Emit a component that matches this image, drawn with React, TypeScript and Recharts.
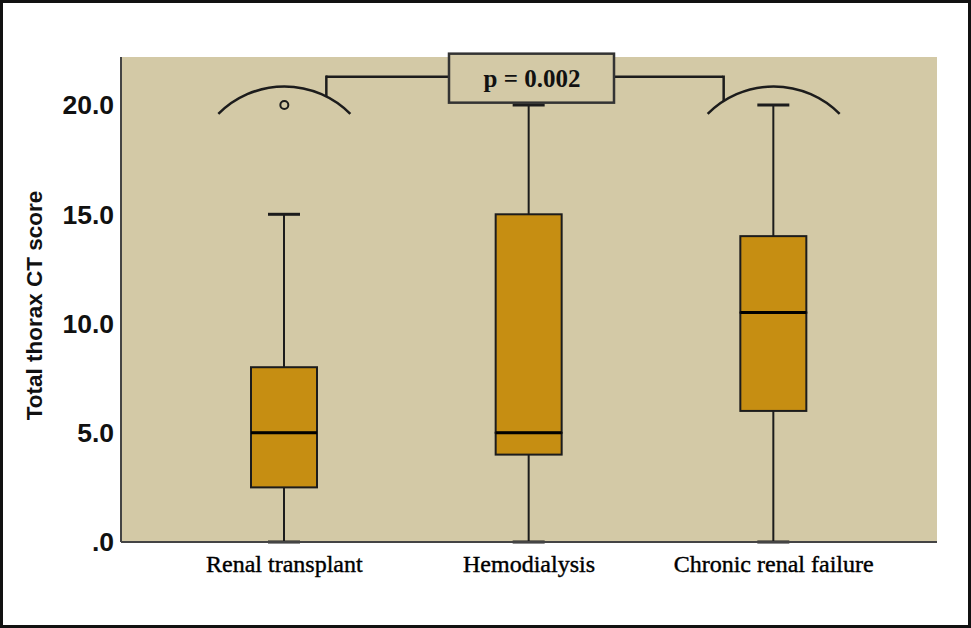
import React from "react";
import {
  ComposedChart,
  Bar,
  Scatter,
  XAxis,
  YAxis,
  CartesianGrid,
  ReferenceDot,
} from "recharts";

const categories = ["Renal transplant", "Hemodialysis", "Chronic renal failure"];
const minVals = [0, 0, 0];
const q1Vals = [2.5, 4, 6];
const medianVals = [5, 5, 10.5];
const q3Vals = [8, 15, 14];
const maxVals = [15, 20, 20];
const outlierVals: (number | null)[] = [20, null, null];
const yTicks = [0, 5, 10, 15, 20];
const pLabel = "p = 0.002";
const arcY = 20.85;
const bracketY = 21.3;

const data = categories.map((name, i) => ({
  name,
  base: minVals[i],
  lowW: q1Vals[i] - minVals[i],
  boxLow: medianVals[i] - q1Vals[i],
  boxHigh: q3Vals[i] - medianVals[i],
  highW: maxVals[i] - q3Vals[i],
  outlier: outlierVals[i],
}));

const INK = "#1c1c1c";
const BOX_FILL = "#C68E12";
const PLOT_BG = "#D3C9A6";

const LowWhisker = (p: any) => {
  const cx = p.x + p.width / 2;
  const yb = p.y + p.height;
  return (
    <g>
      <line x1={cx} x2={cx} y1={p.y} y2={yb} stroke={INK} strokeWidth={2} />
      <line x1={cx - 16} x2={cx + 16} y1={yb} y2={yb} stroke={INK} strokeWidth={3} />
    </g>
  );
};

const HighWhisker = (p: any) => {
  const cx = p.x + p.width / 2;
  return (
    <g>
      <line x1={cx} x2={cx} y1={p.y} y2={p.y + p.height} stroke={INK} strokeWidth={2} />
      <line x1={cx - 16} x2={cx + 16} y1={p.y} y2={p.y} stroke={INK} strokeWidth={3} />
    </g>
  );
};

const BoxLower = (p: any) => (
  <rect x={p.x} y={p.y} width={p.width} height={p.height} fill={BOX_FILL} stroke={INK} strokeWidth={2} />
);

const BoxUpper = (p: any) => (
  <g>
    <rect x={p.x} y={p.y} width={p.width} height={p.height} fill={BOX_FILL} stroke={INK} strokeWidth={2} />
    <line x1={p.x} x2={p.x + p.width} y1={p.y + p.height} y2={p.y + p.height} stroke="#000" strokeWidth={3} />
  </g>
);

const Outlier = (p: any) => {
  if (p.cx == null || p.cy == null || isNaN(p.cy) || p.payload?.outlier == null) return <g />;
  return <circle cx={p.cx} cy={p.cy} r={4} fill="none" stroke={INK} strokeWidth={2} />;
};

// arc over a group plus the bracket leg going up to the bracket line
const arcShape = (legDx: number) => (p: any) => {
  const { cx, cy } = p;
  const r = 93;
  const half = 66;
  const drop = r - Math.sqrt(r * r - half * half);
  const legY = cy + (r - Math.sqrt(r * r - legDx * legDx));
  return (
    <g>
      <path
        d={`M ${cx - half} ${cy + drop} A ${r} ${r} 0 0 1 ${cx + half} ${cy + drop}`}
        fill="none"
        stroke={INK}
        strokeWidth={2.5}
      />
      <line x1={cx + legDx} x2={cx + legDx} y1={legY} y2={cy - 11} stroke={INK} strokeWidth={2.5} />
    </g>
  );
};

const PBox = (p: any) => {
  const { cx, cy } = p;
  return (
    <g>
      <line x1={cx - 203} x2={cx - 80} y1={cy} y2={cy} stroke={INK} strokeWidth={2.5} />
      <line x1={cx + 85} x2={cx + 194} y1={cy} y2={cy} stroke={INK} strokeWidth={2.5} />
      <rect x={cx - 80} y={cy - 23} width={165} height={49} fill={PLOT_BG} stroke="#333" strokeWidth={2.5} />
      <text
        x={cx + 3}
        y={cy + 2}
        textAnchor="middle"
        dominantBaseline="central"
        fontFamily="Liberation Serif"
        fontWeight="bold"
        fontSize={25}
        fill="#111"
      >
        {pLabel}
      </text>
    </g>
  );
};

const YLabel = (props: any) => {
  const vb = props.viewBox || { x: 0, y: 57, width: 121, height: 485 };
  const cy = vb.y + vb.height / 2 + 6;
  return (
    <text
      x={34}
      y={cy}
      transform={`rotate(-90 34 ${cy})`}
      textAnchor="middle"
      dominantBaseline="central"
      fontFamily="Liberation Sans"
      fontWeight="bold"
      fontSize={22.5}
      fill="#111"
    >
      Total thorax CT score
    </text>
  );
};

export default function App() {
  return (
    <div style={{ position: "absolute", left: 0, top: 0, width: 971, height: 628, background: "#fff" }}>
      <ComposedChart
        width={971}
        height={628}
        data={data}
        margin={{ top: 57, right: 34, bottom: 56, left: 0 }}
        barSize={66}
      >
        <CartesianGrid horizontal={false} vertical={false} fill={PLOT_BG} stroke="none" />
        <XAxis
          dataKey="name"
          type="category"
          interval={0}
          padding={{ left: 41, right: 41 }}
          tickLine={false}
          tickSize={0}
          tickMargin={13}
          axisLine={{ stroke: "#444", strokeWidth: 2 }}
          tick={{ fontFamily: "Liberation Serif", fontSize: 24, fill: "#000", stroke: "#000", strokeWidth: 0.4 }}
        />
        <YAxis
          type="number"
          domain={[0, 22.2]}
          ticks={yTicks}
          width={121}
          tickLine={false}
          tickSize={0}
          tickMargin={7}
          tickFormatter={(v: number) => (v === 0 ? ".0" : v.toFixed(1))}
          axisLine={{ stroke: "#444", strokeWidth: 2 }}
          tick={{ fontFamily: "Liberation Sans", fontWeight: "bold", fontSize: 26.5, fill: "#111" }}
          label={<YLabel />}
        />
        <Bar dataKey="base" stackId="box" fill="none" isAnimationActive={false} />
        <Bar dataKey="lowW" stackId="box" shape={LowWhisker} isAnimationActive={false} />
        <Bar dataKey="boxLow" stackId="box" shape={BoxLower} isAnimationActive={false} />
        <Bar dataKey="boxHigh" stackId="box" shape={BoxUpper} isAnimationActive={false} />
        <Bar dataKey="highW" stackId="box" shape={HighWhisker} isAnimationActive={false} />
        <Scatter dataKey="outlier" shape={Outlier} isAnimationActive={false} />
        <ReferenceDot x={categories[0]} y={arcY} shape={arcShape(42)} />
        <ReferenceDot x={categories[2]} y={arcY} shape={arcShape(-50)} />
        <ReferenceDot x={categories[1]} y={bracketY} shape={PBox} />
      </ComposedChart>
      <div
        style={{
          position: "absolute",
          left: 0,
          top: 0,
          width: 971,
          height: 628,
          boxSizing: "border-box",
          border: "3px solid #111",
          pointerEvents: "none",
        }}
      />
    </div>
  );
}
